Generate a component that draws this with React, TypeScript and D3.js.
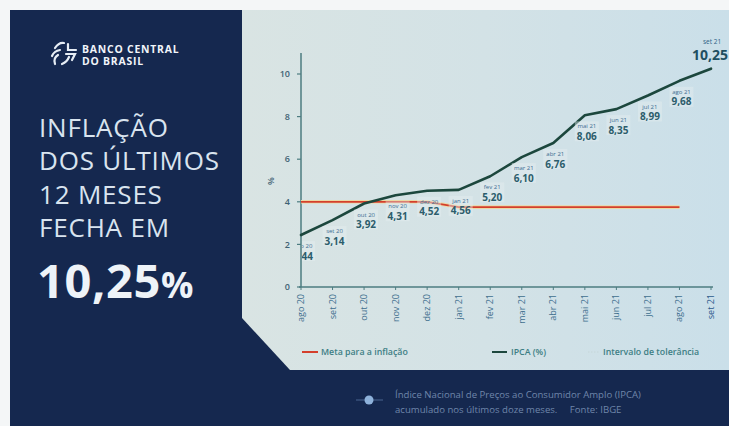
import React from "react";
import * as d3 from "d3";

const months = ["ago 20", "set 20", "out 20", "nov 20", "dez 20", "jan 21", "fev 21", "mar 21", "abr 21", "mai 21", "jun 21", "jul 21", "ago 21", "set 21"];
const ipca = [2.44, 3.14, 3.92, 4.31, 4.52, 4.56, 5.2, 6.1, 6.76, 8.06, 8.35, 8.99, 9.68, 10.25];
const meta = [4, 4, 4, 4, 4, 3.75, 3.75, 3.75, 3.75, 3.75, 3.75, 3.75, 3.75];
const yTicks = [0, 2, 4, 6, 8, 10];
const titleLines = ["INFLAÇÃO", "DOS ÚLTIMOS", "12 MESES", "FECHA EM"];
const legendItems = ["Meta para a inflação", "IPCA (%)", "Intervalo de tolerância"];
const footLines = ["Índice Nacional de Preços ao Consumidor Amplo (IPCA)", "acumulado nos últimos doze meses.     Fonte: IBGE"];

const FONT = "'Open Sans', 'Noto Sans', sans-serif";
const fmt = (v: number) => v.toFixed(2).replace(".", ",");

export default function App() {
  const W = 729, H = 426;
  const x = d3.scaleLinear().domain([0, months.length - 1]).range([301, 711]);
  const y = d3.scaleLinear().domain([0, 10]).range([287, 74]);
  const ipcaLine = d3.line<number>().x((_, i) => x(i)).y((d) => y(d))(ipca) || "";
  const metaLine = d3.line<number>().x((_, i) => x(i)).y((d) => y(d))(meta) || "";
  const navy = "#15284f";

  return (
    <svg width={W} height={H} style={{ position: "absolute", left: 0, top: 0, background: "#f4f6f7" }} fontFamily={FONT}>
      <defs>
        <linearGradient id="panel" x1="0" y1="0" x2="1" y2="0">
          <stop offset="0" stopColor="#d9e4e3" />
          <stop offset="0.5" stopColor="#d3e2e6" />
          <stop offset="1" stopColor="#cadfe9" />
        </linearGradient>
        <clipPath id="plotclip">
          <rect x={302} y={0} width={W} height={H} />
        </clipPath>
      </defs>
      <rect x={10} y={10} width={W - 10} height={H - 10} fill={navy} />
      <path d={`M242,10 H${W} V370 H290 L242,318 Z`} fill="url(#panel)" />

      {/* logo */}
      <g fill="none" stroke="#e6edf5" strokeWidth={2.2} strokeLinecap="round">
        <path d="M55,48 q4,-6 9,-5" />
        <path d="M52,56 q2,-5 8,-6" />
        <path d="M55,64 q-2,-6 3,-9" />
        <path d="M68,44 v6 h8" />
        <path d="M66,54 h9 l-3,6" />
        <path d="M62,64 q5,-2 7,-7" />
      </g>
      <text x={82} y={52.5} fill="#f1f5fa" fontSize={10.4} fontWeight={700} letterSpacing={0.8}>BANCO CENTRAL</text>
      <text x={82} y={65} fill="#f1f5fa" fontSize={10.4} fontWeight={700} letterSpacing={0.8}>DO BRASIL</text>

      {titleLines.map((t, i) => (
        <text key={t} x={39} y={137 + i * 33.3} fill="#d9e4ef" fontSize={26} fontWeight={400} letterSpacing={0.8}>{t}</text>
      ))}
      <text x={37} y={298} fill="#eef3f8" fontSize={47} fontWeight={700} letterSpacing={0.6}>
        10,25<tspan fontSize={36}>%</tspan>
      </text>

      {/* y axis */}
      <line x1={301} y1={53} x2={301} y2={287} stroke="#4d7c80" strokeWidth={1.5} />
      {yTicks.map((t) => (
        <g key={t}>
          <line x1={297} x2={301} y1={y(t)} y2={y(t)} stroke="#4d7c80" strokeWidth={1.2} />
          <text x={290} y={y(t)} dy="0.35em" textAnchor="end" fontSize={9} fontWeight={600} fill="#3f6274">{t}</text>
        </g>
      ))}
      <text transform="translate(274,181) rotate(-90)" textAnchor="middle" fontSize={9} fontWeight={600} fill="#3f6274">%</text>

      {/* x axis */}
      <line x1={299} y1={287} x2={713} y2={287} stroke="#4d7c80" strokeWidth={1.6} />
      {months.map((m, i) => (
        <g key={m}>
          <line x1={x(i)} x2={x(i)} y1={287} y2={290} stroke="#4d7c80" strokeWidth={1} />
          <text transform={`translate(${x(i) + 3},294) rotate(-90)`} textAnchor="end" fontSize={9} fill={i === months.length - 1 ? "#2c5a8c" : "#3f6f8e"}>{m}</text>
        </g>
      ))}

      {/* meta line */}
      <path d={metaLine} fill="none" stroke="#ecd8a4" strokeWidth={3.6} />
      <path d={metaLine} fill="none" stroke="#d43f2c" strokeWidth={1.8} />

      {/* ipca line */}
      <path d={ipcaLine} fill="none" stroke="#1c473d" strokeWidth={2.6} strokeLinejoin="round" strokeLinecap="round" />

      {/* data labels */}
      <g clipPath="url(#plotclip)">
        {ipca.map((v, i) => {
          const last = i === ipca.length - 1;
          const cx = x(i) + 2;
          const py = y(v);
          if (last) {
            return (
              <g key={i}>
                <text x={cx - 1} y={py - 25} textAnchor="middle" fontSize={6.5} fill="#2f5f86">{months[i]}</text>
                <text x={cx - 3} y={py - 9} textAnchor="middle" fontSize={14} fontWeight={700} fill="#1f4f60">{fmt(v)}</text>
              </g>
            );
          }
          return (
            <g key={i}>
              <rect x={cx - 12} y={py + 6} width={24} height={20} fill="#e4eef0" opacity={0.45} />
              <text x={cx} y={py + 13} textAnchor="middle" fontSize={6} fill="#3d6d92">{months[i]}</text>
              <text x={cx} y={py + 24.5} textAnchor="middle" fontSize={10} fontWeight={700} fill="#2c5d6c">{fmt(v)}</text>
            </g>
          );
        })}
      </g>

      {/* legend */}
      <line x1={302} x2={318} y1={352} y2={352} stroke="#d43f2c" strokeWidth={2} />
      <text x={321} y={352} dy="0.35em" fontSize={8.8} fontWeight={600} fill="#3d7e84">{legendItems[0]}</text>
      <line x1={492} x2={507} y1={352} y2={352} stroke="#1c473d" strokeWidth={2} />
      <text x={511} y={352} dy="0.35em" fontSize={8.8} fontWeight={600} fill="#3d7e84">{legendItems[1]}</text>
      <line x1={588} x2={599} y1={352} y2={352} stroke="#c5d6d8" strokeWidth={1} strokeDasharray="1.5,1.5" />
      <text x={603} y={352} dy="0.35em" fontSize={8.8} fontWeight={600} fill="#3d7e84">{legendItems[2]}</text>

      {/* footer */}
      <line x1={356} x2={383} y1={400} y2={400} stroke="#4a6490" strokeWidth={1} />
      <circle cx={369} cy={400} r={4.5} fill="#8eb2db" />
      {footLines.map((t, i) => (
        <text key={i} x={395} y={395 + i * 15} dy="0.35em" fontSize={9.6} fill="#6f86aa" style={{ whiteSpace: "pre" }}>{t}</text>
      ))}
    </svg>
  );
}
